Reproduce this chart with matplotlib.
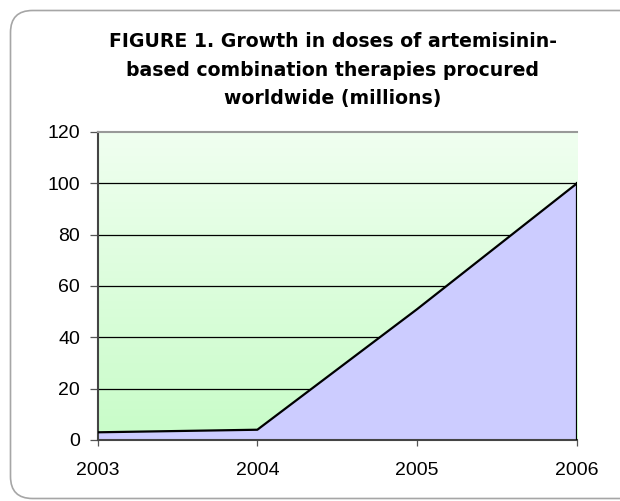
import numpy as np
import matplotlib
matplotlib.use("Agg")
import matplotlib.pyplot as plt
from matplotlib.patches import FancyBboxPatch
from matplotlib.colors import LinearSegmentedColormap

plt.rcParams['font.family'] = ['Liberation Sans', 'DejaVu Sans']

years = [2003, 2004, 2005, 2006]
doses = [3, 4, 51, 100]
yticks = [0, 20, 40, 60, 80, 100, 120]
title = "FIGURE 1. Growth in doses of artemisinin-\nbased combination therapies procured\nworldwide (millions)"

W, H = 620, 501
fig = plt.figure(figsize=(W / 100, H / 100), dpi=100)

# rounded frame around the whole chart, on a background axes
bg = fig.add_axes([0, 0, 1, 1], zorder=-5)
bg.set_xlim(0, W)
bg.set_ylim(H, 0)
bg.axis('off')
bg.add_patch(FancyBboxPatch((10.5, 10.5), W + 20, 488,
                            boxstyle="round,pad=0,rounding_size=22",
                            facecolor='white', edgecolor='#a6a6a6', linewidth=1.2))

left, right, top, bottom = 97.5, 577, 132, 440
ax = fig.add_axes([left / W, 1 - bottom / H, (right - left) / W, (bottom - top) / H])
ax.set_xlim(years[0], years[-1])
ax.set_ylim(0, 120)

# vertical green gradient background
cmap = LinearSegmentedColormap.from_list('bg', ['#c8fcc8', '#f0fff0'])
grad = np.linspace(0, 1, 256).reshape(-1, 1)
ax.imshow(grad, cmap=cmap, aspect='auto', origin='lower',
          extent=[years[0], years[-1], 0, 120], zorder=0)

for y in yticks[1:-1]:
    ax.axhline(y, color='black', linewidth=0.9, zorder=1)

ax.fill_between(years, doses, 0, facecolor='#ccccff', edgecolor='none', zorder=2)
ax.plot(years, doses, color='black', linewidth=1.6, zorder=3)
ax.plot([years[-1], years[-1]], [0, doses[-1]], color='black', linewidth=1.6, zorder=3)

ax.set_xticks(years)
ax.set_yticks(yticks)
ax.tick_params(axis='both', labelsize=14, direction='out', width=0.9,
               color='#555555', labelcolor='black')
ax.tick_params(axis='x', length=4, pad=12)
ax.tick_params(axis='y', length=5.5, pad=7)

ax.spines['top'].set_color('#999999')
ax.spines['top'].set_linewidth(1.5)
ax.spines['right'].set_visible(False)
ax.spines['left'].set_color('#444444')
ax.spines['left'].set_linewidth(1.5)
ax.spines['bottom'].set_color('#444444')
ax.spines['bottom'].set_linewidth(1.5)

fig.text(333 / W, 1 - 70 / H, title, ha='center', va='center', fontsize=13.6,
         fontweight='bold', family='DejaVu Sans', linespacing=1.65)

fig.savefig('out.png', dpi=100)
